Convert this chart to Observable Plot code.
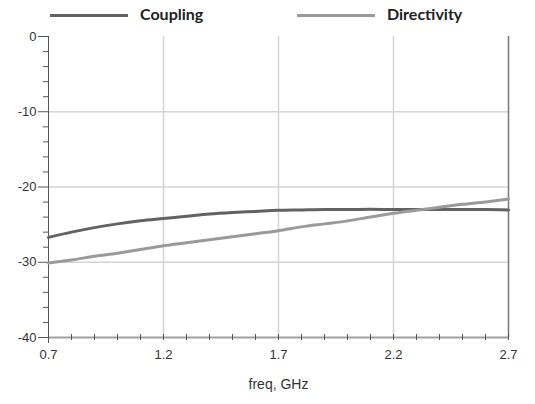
<!DOCTYPE html>
<html><head><meta charset="utf-8">
<script src="https://cdn.jsdelivr.net/npm/d3@7"></script>
<script src="https://cdn.jsdelivr.net/npm/@observablehq/plot@0.6"></script>
<style>
body{margin:0;background:#fff;}
#wrap{position:relative;width:535px;height:404px;}
#legend{position:relative;height:30px;width:535px;font-family:Lato,"Open Sans",sans-serif;font-weight:bold;font-size:16px;color:#222;}
.sw{position:absolute;top:14px;width:78px;height:2.5px;}
.lb{position:absolute;top:4px;}
</style></head>
<body><div id="wrap">
<div id="legend"></div>
<div id="chart"></div>
</div>
<script>
const freq = [0.7,0.8,0.9,1.0,1.1,1.2,1.3,1.4,1.5,1.6,1.7,1.8,1.9,2.0,2.1,2.2,2.3,2.4,2.5,2.6,2.7];
const coupling = [-26.7,-26.0,-25.4,-24.9,-24.5,-24.2,-23.9,-23.6,-23.4,-23.25,-23.1,-23.05,-23.0,-23.0,-22.95,-23.0,-23.0,-23.0,-23.0,-23.0,-23.05];
const directivity = [-30.1,-29.7,-29.2,-28.8,-28.3,-27.8,-27.4,-27.0,-26.6,-26.2,-25.8,-25.3,-24.9,-24.5,-24.0,-23.5,-23.1,-22.7,-22.3,-22.0,-21.6];
const seriesNames = ["Coupling","Directivity"];
const seriesColors = ["#626262","#9a9a9a"];
const xMajor = [0.7,1.2,1.7,2.2,2.7];
const yMajor = [0,-10,-20,-30,-40];
const xLabel = "freq, GHz";

const xMinor = d3.range(7,28).map(d => d/10);
const yMinor = d3.range(-40,1,2).filter(d => d % 10 !== 0);

const rows = [];
freq.forEach((f,i) => {
  rows.push({freq:f, value:coupling[i], series:seriesNames[0]});
  rows.push({freq:f, value:directivity[i], series:seriesNames[1]});
});

// legend
const leg = document.getElementById("legend");
const legPos = [[50,140],[297,387]];
seriesNames.forEach((s,i)=>{
  const sw = document.createElement("div");
  sw.className="sw"; sw.style.left=legPos[i][0]+"px"; sw.style.background=seriesColors[i];
  leg.appendChild(sw);
  const lb = document.createElement("div");
  lb.className="lb"; lb.style.left=legPos[i][1]+"px"; lb.textContent=s;
  leg.appendChild(lb);
});

const chart = Plot.plot({
  width:535, height:374,
  marginTop:6, marginBottom:67, marginLeft:48, marginRight:27,
  style:{fontFamily:"'Liberation Sans',Arial,sans-serif", fontSize:"13px", color:"#333", background:"#fff"},
  x:{domain:[0.7,2.7]},
  y:{domain:[-40,0]},
  color:{domain:seriesNames, range:seriesColors},
  marks:[
    Plot.ruleX(xMajor.slice(1,-1), {stroke:"#d4d4d4", strokeWidth:1.5}),
    Plot.ruleY(yMajor.slice(1,-1), {stroke:"#d4d4d4", strokeWidth:1.5}),
    Plot.ruleY([-40], {stroke:"#a0a0a0", strokeWidth:2}),
    Plot.ruleX([2.7], {stroke:"#777", strokeWidth:1.5}),
    Plot.ruleX([0.7], {stroke:"#555", strokeWidth:1}),
    Plot.ruleX(xMinor, {y1:-40, y2:-40, insetTop:-3, insetBottom:-3, stroke:"#555", strokeWidth:1}),
    Plot.ruleX([0.7], {y1:-40, y2:-40, insetTop:0, insetBottom:-6, stroke:"#555", strokeWidth:1}),
    Plot.axisY(yMinor, {tickSize:5, tickFormat:()=>"", stroke:"#555", label:null}),
    Plot.axisY(yMajor, {tickSize:10, tickPadding:2, stroke:"#555", label:null, tickFormat:d=>d===0?"0":String(d).replace("−","-"), fill:"#333"}),
    Plot.axisX(xMajor, {tickSize:0, tickPadding:12, tickFormat:d=>d.toFixed(1), fill:"#333", label:null}),
    Plot.text([xLabel], {frameAnchor:"bottom", dy:51, text:d=>d, fontSize:14, fill:"#333"}),
    Plot.line(rows, {x:"freq", y:"value", stroke:"series", strokeWidth:3, curve:"monotone-x"})
  ]
});
document.getElementById("chart").appendChild(chart);
</script>
</body></html>
